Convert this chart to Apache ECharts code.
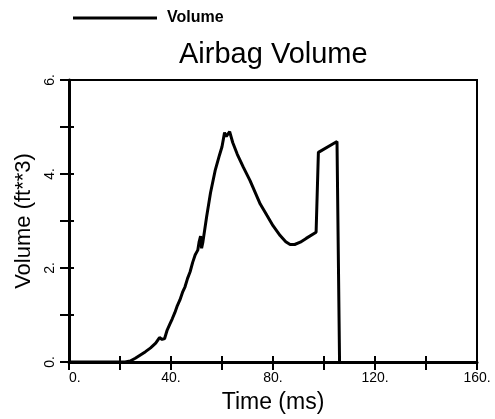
<!DOCTYPE html>
<html><head><meta charset="utf-8">
<script src="https://cdn.jsdelivr.net/npm/echarts@6/dist/echarts.min.js"></script>
<style>html,body{margin:0;padding:0;background:#fff}#c{width:495px;height:419px}</style>
</head><body><div id="c"></div>
<script>
const seriesName = 'Volume';
const timeMs = [0, 22, 24, 26, 28, 30, 32, 34, 35.5, 36.5, 37.5, 38.5, 39.5, 40.5, 41.5, 42.5, 43.5, 44.5, 45.5, 46.5, 47.5, 48.5, 49.5, 50.5, 51.0, 51.6, 52.0, 52.5, 54, 55.5, 57.3, 59, 60, 61, 61.7, 62.3, 63, 64.2, 66, 68.4, 71, 75, 77.6, 80, 82.8, 85, 86.7, 88.5, 90.7, 93, 96.9, 97.8, 105.1, 106.1];
const volume = [0, 0, 0.02, 0.08, 0.15, 0.22, 0.3, 0.4, 0.52, 0.48, 0.5, 0.68, 0.8, 0.92, 1.05, 1.2, 1.32, 1.48, 1.6, 1.78, 1.92, 2.12, 2.28, 2.38, 2.55, 2.68, 2.42, 2.55, 3.1, 3.6, 4.07, 4.4, 4.58, 4.88, 4.8, 4.78, 4.9, 4.67, 4.42, 4.14, 3.86, 3.36, 3.12, 2.9, 2.69, 2.56, 2.5, 2.5, 2.55, 2.63, 2.76, 4.46, 4.69, 0];
const xTickLabels = [0, 40, 80, 120, 160];
const yTickLabels = [0, 2, 4, 6];

const font = 'Liberation Sans, Arial, Helvetica, sans-serif';
const chart = echarts.init(document.getElementById('c'));
const data = timeMs.map((t, i) => [t, volume[i]]);
const baseX = {
  type: 'value', min: 0, max: 160, interval: 20, gridIndex: 0,
  splitLine: { show: false }
};
const baseY = {
  type: 'value', min: 0, max: 6, interval: 1, gridIndex: 0,
  splitLine: { show: false }
};
chart.setOption({
  animation: false,
  title: {
    text: 'Airbag Volume', left: 174, top: 35,
    textStyle: { fontFamily: font, fontSize: 29, fontWeight: 'normal', color: '#000' }
  },
  legend: {
    left: 68, top: 5, itemWidth: 84, itemHeight: 3, icon: 'rect',
    data: [seriesName],
    textStyle: { fontFamily: font, fontSize: 16, fontWeight: 'bold', color: '#000', padding: [0, 0, 0, 5] }
  },
  grid: {
    left: 69, right: 18, top: 80, bottom: 57,
    show: true, borderColor: '#000', borderWidth: 2, backgroundColor: 'transparent'
  },
  xAxis: [
    Object.assign({}, baseX, {
      position: 'bottom',
      name: 'Time (ms)', nameLocation: 'middle', nameGap: 29,
      nameTextStyle: { fontFamily: font, fontSize: 23, color: '#000' },
      axisLine: { show: true, onZero: false, lineStyle: { color: '#000', width: 3 } },
      axisTick: { show: true, inside: false, length: 8, lineStyle: { color: '#000', width: 2 } },
      axisLabel: {
        fontFamily: font, fontSize: 14, color: '#000', margin: 9, showMaxLabel: true, showMinLabel: true,
        alignMinLabel: 'left',
        formatter: v => xTickLabels.includes(v) ? v + '.' : ''
      }
    }),
    Object.assign({}, baseX, {
      position: 'bottom', offset: 0,
      axisLine: { show: true, onZero: false, lineStyle: { color: '#000', width: 0, opacity: 0 } },
      axisTick: { show: true, inside: true, length: 6, lineStyle: { color: '#000', width: 2 } },
      axisLabel: { show: false }
    })
  ],
  yAxis: [
    Object.assign({}, baseY, {
      position: 'left',
      name: 'Volume (ft**3)', nameLocation: 'middle', nameGap: 30, nameRotate: 90,
      nameTextStyle: { fontFamily: font, fontSize: 22, color: '#000' },
      axisLine: { show: true, onZero: false, lineStyle: { color: '#000', width: 3 } },
      axisTick: { show: true, inside: false, length: 9, lineStyle: { color: '#000', width: 2 } },
      axisLabel: {
        fontFamily: font, fontSize: 14, color: '#000', margin: 12, rotate: 90,
        formatter: v => yTickLabels.includes(v) ? v + '.' : ''
      }
    }),
    Object.assign({}, baseY, {
      position: 'left', offset: 0,
      axisLine: { show: true, onZero: false, lineStyle: { color: '#000', width: 0, opacity: 0 } },
      axisTick: { show: true, inside: true, length: 5, lineStyle: { color: '#000', width: 2 } },
      axisLabel: { show: false }
    })
  ],
  series: [{
    name: seriesName, type: 'line', data: data, xAxisIndex: 0, yAxisIndex: 0,
    showSymbol: false, symbol: 'none',
    lineStyle: { color: '#000', width: 3 }, itemStyle: { color: '#000' }
  }, {
    name: 'ticks', type: 'line', data: data, xAxisIndex: 1, yAxisIndex: 1,
    showSymbol: false, symbol: 'none', silent: true,
    lineStyle: { opacity: 0, width: 0 }, itemStyle: { opacity: 0 }
  }]
});
</script></body></html>
